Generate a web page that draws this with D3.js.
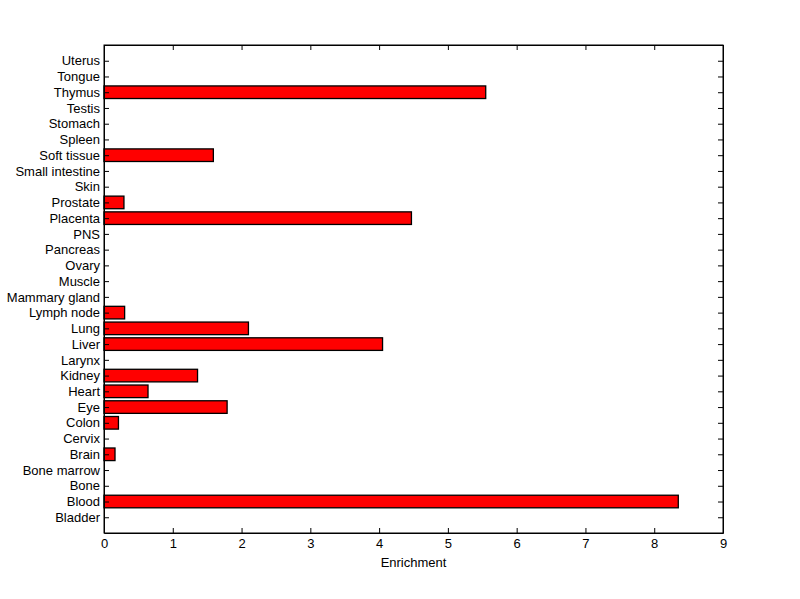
<!DOCTYPE html>
<html><head><meta charset="utf-8">
<script src="https://cdn.jsdelivr.net/npm/d3@7"></script>
<style>body{margin:0;background:#fff}svg{display:block}text{font-family:"Liberation Sans",Arial,Helvetica,sans-serif}</style>
</head><body><svg id="c" width="800" height="599"></svg>
<script>
const categories = ["Bladder","Blood","Bone","Bone marrow","Brain","Cervix","Colon","Eye","Heart","Kidney","Larynx","Liver","Lung","Lymph node","Mammary gland","Muscle","Ovary","Pancreas","PNS","Placenta","Prostate","Skin","Small intestine","Soft tissue","Spleen","Stomach","Testis","Thymus","Tongue","Uterus"];
const values = [0,8.35,0,0,0.16,0,0.21,1.79,0.64,1.36,0,4.05,2.10,0.30,0,0,0,0,0,4.47,0.29,0,0,1.59,0,0,0,5.55,0,0];
const xTicks = [0,1,2,3,4,5,6,7,8,9];
const xLabel = "Enrichment";

const svg = d3.select("#c");
const L=104, R=723, T=45, B=533;
const x = d3.scaleLinear().domain([0,9]).range([L,R]);
const y = d3.scaleLinear().domain([0,categories.length+1]).range([B,T]);
const bw = 0.8;

const g = svg.append("g");
g.selectAll("rect.bar").data(values.map((v,i)=>({v,i})).filter(d=>d.v>0)).join("rect")
  .attr("class","bar")
  .attr("x",x(0)).attr("width",d=>x(d.v)-x(0))
  .attr("y",d=>y(d.i+1+bw/2)).attr("height",d=>y(d.i+1-bw/2)-y(d.i+1+bw/2))
  .attr("fill","#ff0000").attr("stroke","#000").attr("stroke-width",1.3);

const yIdx = d3.range(1,categories.length+1);
const axL = d3.axisLeft(y).tickValues(yIdx).tickFormat(i=>categories[i-1]).tickSizeInner(-5).tickSizeOuter(0).tickPadding(4);
const axR = d3.axisRight(y).tickValues(yIdx).tickFormat("").tickSizeInner(-5).tickSizeOuter(0);
const axB = d3.axisBottom(x).tickValues(xTicks).tickFormat(d3.format("d")).tickSizeInner(-5).tickSizeOuter(0).tickPadding(6);
const axT = d3.axisTop(x).tickValues(xTicks).tickFormat("").tickSizeInner(-5).tickSizeOuter(0);

function style(s){
  s.selectAll("path").attr("stroke","#000").attr("stroke-width",1);
  s.selectAll("line").attr("stroke","#000").attr("stroke-width",1);
  s.selectAll("text").attr("fill","#000").style("font-size","13px").style("font-family",'"Liberation Sans",Arial,sans-serif');
}
svg.append("g").attr("transform",`translate(${L},0)`).call(axL).call(style);
svg.append("g").attr("transform",`translate(${R},0)`).call(axR).call(style);
svg.append("g").attr("transform",`translate(0,${B})`).call(axB).call(style);
svg.append("g").attr("transform",`translate(0,${T})`).call(axT).call(style);
svg.append("rect").attr("x",L).attr("y",T).attr("width",R-L).attr("height",B-T).attr("fill","none").attr("stroke","#000").attr("stroke-width",1);

svg.append("text").attr("x",(L+R)/2).attr("y",567).attr("text-anchor","middle").style("font-size","13px").text(xLabel);
</script></body></html>
